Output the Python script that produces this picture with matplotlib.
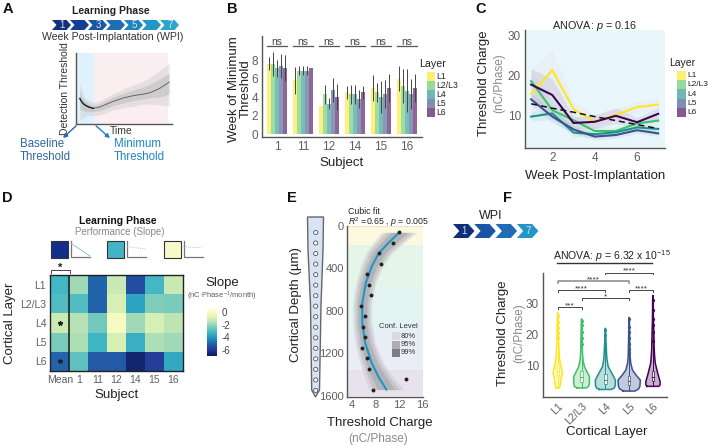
#!/usr/bin/env python3
import numpy as np
import matplotlib
matplotlib.use('Agg')
import matplotlib.pyplot as plt
from matplotlib.patches import Polygon, Rectangle, Circle

plt.rcParams['font.family'] = ['Liberation Sans', 'DejaVu Sans']
plt.rcParams['mathtext.fontset'] = 'custom'
plt.rcParams['mathtext.rm'] = 'Liberation Sans'
plt.rcParams['mathtext.it'] = 'Liberation Sans:italic'

W, H = 708, 446
GREY = '#5f5f5f'
AXC = '#555555'

layers = ['L1', 'L2/L3', 'L4', 'L5', 'L6']
colors = ['#fde725', '#5ec962', '#21918c', '#3b528b', '#440154']
chev_cols = ['#10307f', '#123f94', '#1a55a5', '#1f6db5', '#2183bf', '#2296c6', '#2aa5cc']

# A
a_time = [4, 6, 9, 13, 18, 25, 39, 50, 60, 70, 77, 87, 97]
a_thr = [36, 31, 27, 24, 22, 24, 32, 37, 40, 42, 44, 50, 59]
a_hi = [60, 45, 38, 33, 30, 33, 43, 50, 55, 60, 66, 75, 85]
a_lo = [3, 8, 10, 12, 12, 13, 20, 23, 25, 28, 28, 27, 25]
a_hi2 = [48, 38, 33, 29, 26, 29, 38, 44, 48, 52, 56, 63, 72]
a_lo2 = [20, 20, 18, 18, 17, 19, 26, 30, 33, 35, 37, 38, 42]

# B
subjects = ['1', '11', '12', '14', '15', '16']
bar_vals = [[7.6, 7.6, 7.1, 7.35, 7.1],
            [5.8, 6.85, 6.85, 6.85, 7.1],
            [3.0, 4.3, 3.3, 4.8, 4.0],
            [4.5, 4.3, 4.3, 3.8, 4.5],
            [5.0, 4.5, 4.0, 4.3, 5.0],
            [6.0, 5.2, 4.7, 4.3, 5.0]]
bar_errs = [[0.7, 1.3, 0.9, 1.3, 1.4],
            [1.5, 0.5, 0.5, 0.5, 0.0],
            [0.0, 1.0, 0.6, 1.3, 1.4],
            [0.7, 1.0, 1.0, 1.0, 0.7],
            [1.4, 1.0, 1.7, 1.5, 1.5],
            [1.4, 1.8, 2.3, 1.6, 1.5]]

# C
weeks = [1, 2, 3, 4, 5, 6, 7]
wk_vals = [[15.2, 21.2, 11.5, 8.3, 10.0, 12.0, 12.6],
           [18.5, 11.2, 8.7, 6.0, 6.0, 7.9, 8.6],
           [9.6, 10.4, 5.6, 5.2, 5.7, 6.9, 6.5],
           [13.9, 9.6, 6.4, 4.6, 5.0, 6.2, 5.4],
           [17.6, 15.0, 8.0, 8.3, 9.8, 8.2, 10.3]]
wk_err = [[6.0, 5.0, 2.0, 1.5, 1.5, 1.5, 1.5],
          [3.0, 2.0, 1.5, 1.0, 1.0, 1.0, 1.0],
          [1.2, 1.5, 1.0, 0.8, 0.8, 0.8, 0.8],
          [1.5, 1.5, 1.0, 0.8, 0.8, 0.8, 0.8],
          [4.0, 4.0, 1.5, 1.8, 2.0, 1.2, 1.5]]
wk_trend = [12.8, 11.7, 10.7, 9.6, 8.6, 7.6, 6.6]

# D
heat_cols = ['Mean', '1', '11', '12', '14', '15', '16']
heat_rows = ['L1', 'L2/L3', 'L4', 'L5', 'L6']
slopes = [[-3.2, -1.9, -5.0, -1.3, -5.5, -3.2, -1.3],
          [-3.0, -3.0, -5.0, -1.0, -3.7, -2.3, -2.4],
          [-1.3, -1.6, -2.5, 0.0, -1.9, -1.0, -1.5],
          [-2.4, -1.7, -3.3, -1.0, -3.4, -1.7, -1.9],
          [-5.0, -2.8, -5.2, -5.2, -6.6, -5.8, -3.6]]

# E
pt_charge = [12.0, 11.0, 8.5, 8.9, 6.5, 6.8, 7.2, 5.5, 6.1, 5.8, 6.2, 5.7, 6.5, 6.8, 13.1, 7.6]
pt_depth = [60, 156, 253, 354, 454, 554, 651, 751, 851, 951, 1049, 1145, 1246, 1346, 1443, 1543]
fit_depth = [60, 163, 257, 382, 538, 726, 914, 1101, 1289, 1414, 1540]
fit_charge = [12.0, 10.1, 8.5, 7.3, 6.3, 5.7, 5.7, 6.2, 7.3, 8.4, 9.8]
ci99 = [3.0, 2.6, 2.2, 1.9, 1.7, 1.6, 1.6, 1.7, 2.0, 2.4, 3.0]
ci95 = [2.3, 2.0, 1.7, 1.4, 1.3, 1.2, 1.2, 1.3, 1.5, 1.8, 2.3]
ci80 = [1.5, 1.3, 1.1, 0.9, 0.8, 0.8, 0.8, 0.8, 1.0, 1.2, 1.5]
band_edges = [0, 178, 570, 976, 1352, 1600]
band_cols = ['#fdf8e0', '#e6f5ea', '#e3f3f1', '#e9edf5', '#e8e2ec']
conf_labels = ['80%', '95%', '99%']
conf_cols = ['#dcdadf', '#aeadb3', '#7f7d84']

# F
vio_vals = [[3, 4, 5.5, 7.7, 10.3, 12, 14, 17, 20, 24, 27],
            [3, 3.5, 4.5, 6.6, 9.8, 12, 14, 17, 20, 25],
            [2.5, 3, 4, 5.5, 6.6, 9.8, 12, 14, 17, 22],
            [2, 2.7, 3.5, 5.5, 7, 8.7, 10.8, 13, 16, 20, 25.5],
            [3.5, 4, 5, 7.7, 10.8, 13, 16, 20, 25, 32.5]]
vio_wid = [[.07, .11, .13, .2, .13, .08, .06, .04, .03, .02, .01],
           [.2, .3, .33, .33, .12, .06, .04, .03, .02, .01],
           [.25, .38, .42, .42, .35, .12, .07, .05, .03, .01],
           [.25, .4, .45, .47, .3, .14, .07, .04, .03, .02, .01],
           [.25, .3, .3, .2, .1, .07, .05, .04, .02, .01]]
vio_med = [8.5, 6.5, 5.5, 5.2, 6.5]
vio_q1 = [7.0, 5.0, 4.2, 4.0, 5.2]
vio_q3 = [10.5, 8.5, 7.5, 6.8, 8.5]
vio_out = [[19, 20.5, 22, 24, 26],
           [17, 19, 21, 23, 24.5],
           [15, 16, 17, 20, 21.5],
           [14, 15.5, 17, 19, 21, 22.5, 25],
           [18, 21, 23, 25, 28, 31]]
sig_pairs = [(0, 1, 28.7, '***'), (1, 3, 31.6, '*'), (0, 2, 34.2, '****'),
             (3, 4, 34.2, '****'), (0, 3, 37.0, '****'), (2, 4, 39.8, '****')]


fig = plt.figure(figsize=(W / 100, H / 100), dpi=100)

def axpx(l, t, r, b):
  return fig.add_axes([l / W, 1 - b / H, (r - l) / W, (b - t) / H])

def clean(ax, size=8.5):
  for s in ['top', 'right']:
    ax.spines[s].set_visible(False)
  for s in ['left', 'bottom']:
    ax.spines[s].set_color(AXC)
    ax.spines[s].set_linewidth(1.0)
  ax.tick_params(length=0, labelsize=size, labelcolor=GREY, pad=3)

# overlay in pixel units for annotations and sketches
ov = fig.add_axes([0, 0, 1, 1], zorder=20)
ov.set_xlim(0, W)
ov.set_ylim(H, 0)
ov.axis('off')

def txt(x, y, s, size=9, color='#222222', ha='center', **kw):
  return ov.text(x, y, s, fontsize=size, color=color, ha=ha, va='center', **kw)

def chevrons(x0, y0, step, w, h, cols, labels):
  for i, c in enumerate(cols):
    x = x0 + i * step
    pts = [(x, y0), (x + w - h * 0.45, y0), (x + w, y0 + h / 2), (x + w - h * 0.45, y0 + h),
           (x, y0 + h), (x + h * 0.45, y0 + h / 2)]
    ov.add_patch(Polygon(pts, closed=True, fc=c, ec='none'))
    if labels[i]:
      txt(x + w / 2 + 0.5, y0 + h / 2, labels[i], 7, '#d5e6f2')

for x, y, s in [(8, 9, 'A'), (232, 9, 'B'), (481, 9, 'C'), (7, 198, 'D'), (292, 198, 'E'), (507, 198, 'F')]:
  txt(x, y, s, 10.5, '#111111', fontweight='bold')

# --- A
txt(111, 11, 'Learning Phase', 7.5, '#222222', fontweight='bold')
chevrons(52, 20, 18, 19, 10, chev_cols, ['1', '', '3', '', '5', '', '7'])
txt(113, 36.5, 'Week Post-Implantation (WPI)', 7.6, '#333333')
ax = axpx(76, 53, 172, 124)
clean(ax)
ax.set_xlim(0, 100)
ax.set_ylim(0, 100)
ax.set_xticks([])
ax.set_yticks([])
ax.axvspan(0, 19, color='#dff1fb', lw=0)
ax.axvspan(19, 96, color='#fbeef0', lw=0)
ax.fill_between(a_time, a_lo, a_hi, color='#c8c8c8', alpha=0.4, lw=0)
ax.fill_between(a_time, a_lo2, a_hi2, color='#a8a8a8', alpha=0.35, lw=0)
ax.plot(a_time, a_thr, color='#666666', lw=0.7)
ax.plot(a_time[:5], a_thr[:5], color='#222222', lw=1.0)
ax.set_xlabel('Time', fontsize=7.5, color='#333333', labelpad=1)
ax.xaxis.set_label_coords(0.47, -0.03, transform=ax.transAxes)
ax.xaxis.label.set_verticalalignment('top')
ax.set_ylabel('Detection Threshold', fontsize=7.5, color='#333333', labelpad=4)
ov.annotate('', xy=(61, 140), xytext=(78, 124), arrowprops=dict(arrowstyle='-|>', color='#2d6a9f', lw=1, mutation_scale=6))
ov.annotate('', xy=(112, 140), xytext=(94, 124), arrowprops=dict(arrowstyle='-|>', color='#1f7fc0', lw=1, mutation_scale=6))
txt(20, 144, 'Baseline', 8.3, '#2d6a9f', ha='left')
txt(20, 157, 'Threshold', 8.3, '#2d6a9f', ha='left')
txt(114, 144, 'Minimum', 8.3, '#1f86c6', ha='left')
txt(114, 157, 'Threshold', 8.3, '#1f86c6', ha='left')

# --- B
ax = axpx(262, 36, 422, 137)
clean(ax)
ax.set_xlim(-0.577, 5.58)
ax.set_ylim(-0.32, 10.6)
bw = 0.15
for g in range(len(subjects)):
  for k in range(5):
    xx = g + (k - 2) * bw
    ax.bar(xx, bar_vals[g][k], bw, color=colors[k], alpha=0.6, lw=0)
    if bar_errs[g][k] > 0:
      ax.errorbar(xx, bar_vals[g][k], yerr=bar_errs[g][k], color='#444444', lw=0.7)
  ax.plot([g - 0.38, g + 0.38], [9.5, 9.5], color=AXC, lw=0.9)
  ax.text(g, 9.45, 'ns', fontsize=7.5, color='#444444', ha='center', va='bottom')
ax.set_xticks(range(len(subjects)), subjects)
ax.set_yticks([0, 2, 4, 6, 8])
ax.set_xlabel('Subject', fontsize=9.5, color='#222222', labelpad=3)
txt(234, 89, 'Week of Minimum', 9.5, '#222222', rotation=90)
txt(246, 89, 'Threshold', 9.5, '#222222', rotation=90)

def layer_legend(x_title, x_sw, y0, step, w, size):
  txt(x_title, y0 - 8, 'Layer', size + 1.5, '#222222', ha='left')
  for i, l in enumerate(layers):
    ov.add_patch(Rectangle((x_sw, y0 + i * step), w, step, fc=colors[i], alpha=0.65, lw=0))
    txt(x_sw + w + 1.5, y0 + (i + 0.5) * step, l, size, '#222222', ha='left')

layer_legend(419, 427, 72, 9, 8, 6.2)

# --- C
ax = axpx(525, 30, 665, 148)
clean(ax)
ax.set_xlim(0.71, 7.32)
ax.set_ylim(1.75, 31.25)
ax.set_facecolor('#e9f6fc')
for k in range(5):
  v, e = np.array(wk_vals[k]), np.array(wk_err[k])
  ax.fill_between(weeks, v - e, v + e, color=colors[k] if k != 0 else '#e8a0a8', alpha=0.08, lw=0)
for k in [0, 1, 2, 3, 4]:
  ax.plot(weeks, wk_vals[k], color=colors[k] if k != 1 else '#3fbf6f', lw=1.5)
ax.plot(weeks, wk_trend, color='#111111', lw=1.1, ls=(0, (4, 2.5)))
ax.set_xticks([2, 4, 6])
ax.set_yticks([10, 20, 30])
ax.set_xlabel('Week Post-Implantation', fontsize=9.5, color='#222222', labelpad=4)
txt(595, 26, 'ANOVA: $\\mathit{p}$ = 0.16', 7.8, '#222222')
txt(484, 83, 'Threshold Charge', 9.5, '#222222', rotation=90)
txt(499, 83, '(nC/Phase)', 8.5, '#8a8a8a', rotation=90)
layer_legend(669, 677, 71, 9.2, 9, 6.0)

# --- D
ax = axpx(50.3, 275, 182.7, 370.7)
im = ax.imshow(slopes, cmap='YlGnBu_r', vmin=-7.0, vmax=0.5, aspect='auto')
ax.set_xticks(range(7), heat_cols)
ax.set_yticks(range(5), heat_rows)
ax.tick_params(length=0, labelsize=7.5, labelcolor=GREY, pad=3)
for s in ax.spines.values():
  s.set_linewidth(1.0)
  s.set_color('#222222')
ax.axvline(0.5, color='#222222', lw=1.2)
ax.plot([0, 0], [2, 4], ls='none', marker='*', color='#222222', ms=3.2)
ax.set_xlabel('Subject', fontsize=9.5, color='#222222', labelpad=3)
ax.set_ylabel('Cortical Layer', fontsize=9.5, color='#222222', labelpad=3)
ov.plot([50.5, 50.5, 69.5, 69.5], [273, 270, 270, 273], color='#444444', lw=0.7)
txt(60, 268, '*', 8, '#222222', fontweight='bold')
cax = axpx(207, 309, 217, 356)
cb = fig.colorbar(im, cax=cax)
cb.set_ticks([0, -2, -4, -6])
cb.ax.tick_params(length=0, labelsize=7, labelcolor='#444444', pad=3)
cb.ax.set_yticklabels(['0', '-2', '-4', '-6'])
cb.outline.set_visible(False)
txt(222, 283, 'Slope', 9.5, '#222222')
txt(222, 296, '(nC$\\cdot$Phase$^{-1}$/month)', 5.5, GREY)
txt(118, 221, 'Learning Phase', 7.5, '#111111', fontweight='bold')
txt(120, 232, 'Performance (Slope)', 7, '#8a8a8a')
for x0, c, ye in [(51, '#12308a', 256), (107, '#43b3c6', 249), (163.5, '#f6fbc9', 248)]:
  ov.add_patch(Rectangle((x0, 241), 17, 16.5, fc=c, ec='#333333', lw=0.8))
  ov.plot([x0 + 20, x0 + 20, x0 + 39], [241, 257, 257], color='#777777', lw=0.9)
  ov.plot([x0 + 20, x0 + 39], [242 + (ye - 242) * 0.1 + (4 if ye < 250 else 0), ye], color='#7bbcd0', lw=0.6, ls=':' if ye < 250 else '-')

# --- E
ax = axpx(347, 226, 423, 397)
clean(ax)
ax.set_xlim(3.1, 16.05)
ax.set_ylim(1610, 0)
for i in range(5):
  ax.axhspan(band_edges[i], band_edges[i + 1], color=band_cols[i], lw=0)
fit_c = np.array(fit_charge)
for ci, c in zip([ci99, ci95, ci80], ['#c9c8cc', '#b5b4b9', '#a0a0a5']):
  ax.fill_betweenx(fit_depth, fit_c - np.array(ci), fit_c + np.array(ci), color=c, alpha=0.5, lw=0)
ax.plot(fit_charge, fit_depth, color='#1f95c8', lw=1.5)
ax.plot(pt_charge, pt_depth, ls='none', marker='o', ms=1.8, color='#222222')
ax.axhline(0, color='#e0b0a0', lw=0.6, ls=':', clip_on=False)
ax.set_xticks([4, 8, 12, 16])
ax.set_yticks([0, 400, 800, 1200, 1600])
ax.tick_params(labelsize=8, pad=2)
txt(296, 305, 'Cortical Depth (µm)', 9.5, '#222222', rotation=90)
txt(380, 423, 'Threshold Charge', 9.5, '#222222')
txt(378, 439, '(nC/Phase)', 8.5, '#8a8a8a')
txt(348, 211, 'Cubic fit', 6.3, '#222222', ha='left')
txt(348, 222, '$\\mathit{R}^2$ =0.65 , $\\mathit{p}$ = 0.005', 6.3, '#222222', ha='left')
txt(398, 326, 'Conf. Level', 5.5, '#333333')
for i, l in enumerate(conf_labels):
  ov.add_patch(Rectangle((392, 332 + i * 8.5), 8, 8, fc=conf_cols[i], lw=0))
  txt(401, 336 + i * 8.5, l, 5.5, '#333333', ha='left')

# probe sketch
ov.add_patch(Polygon([(307.5, 217), (323.5, 217), (323, 250), (321, 305), (319.5, 390), (315.5, 397), (311.7, 390), (310.5, 305), (308, 250)],
                     closed=True, fc='#d8e4f4', ec='#666666', lw=1))
for i in range(16):
  ov.add_patch(Circle((315.7, 232.5 + i * 10.53), 2.1, fc='#f4f7fb', ec='#555555', lw=0.6))

# --- F
txt(491, 216, 'WPI', 9, '#222222')
chevrons(453, 224, 21.3, 21.5, 14, ['#10307f', '#1a55a5', '#1f6db5', '#2296c6'], ['1', '', '', '7'])
ax = axpx(543, 273, 667, 397)
clean(ax)
ax.set_xlim(-0.62, 4.59)
ax.set_ylim(0.1, 39.7)
for k in range(5):
  v, w = np.array(vio_vals[k]), np.array(vio_wid[k])
  col = colors[k] if k != 1 else '#3fbf6f'
  ax.fill_betweenx(v, k - w, k + w, facecolor=colors[k], alpha=0.3, lw=0)
  ax.plot(np.r_[k - w, (k + w)[::-1], k - w[0]], np.r_[v, v[::-1], v[0]], color=col, lw=1.1)
  ax.plot([k, k], [v[0], v[-1]], color=col, lw=0.7)
  ax.plot([k] * len(vio_out[k]), vio_out[k], ls='none', marker='o', ms=1.3, color=col)
  ax.add_patch(Rectangle((k - 0.05, vio_q1[k]), 0.1, vio_q3[k] - vio_q1[k], fc='white', ec=col, lw=0.5, zorder=3))
  ax.plot([k - 0.05, k + 0.05], [vio_med[k], vio_med[k]], color=col, lw=0.7, zorder=4)
for a, b, y, s in sig_pairs:
  lw, c = (1.1, '#888888') if (a, b) == (0, 3) else (0.7, '#444444')
  ax.plot([a, a, b, b], [y - 0.5, y, y, y - 0.5], color=c, lw=lw, clip_on=False)
  ax.text((a + b) / 2, y - 0.7, s, fontsize=6, color='#333333', ha='center', va='bottom', clip_on=False)
ax.set_xticks(range(5), ['L1', 'L2/L3', 'L4', 'L5', 'L6'])
ax.set_yticks([10, 20, 30])
ax.tick_params(axis='x', labelrotation=45, labelsize=7.5)
for t in ax.get_xticklabels():
  t.set_ha('right')
  t.set_rotation_mode('anchor')
ax.tick_params(axis='y', labelsize=8.5)
txt(607, 432, 'Cortical Layer', 9.5, '#222222')
txt(503, 333, 'Threshold Charge', 9.5, '#222222', rotation=90)
txt(519, 333, '(nC/Phase)', 8.5, '#8a8a8a', rotation=90)
txt(612, 256, 'ANOVA: $\\mathit{p}$ = 6.32 x 10$^{-15}$', 7.6, '#222222')
ov.plot([557, 652], [262.5, 262.5], color='#333333', lw=1)

fig.savefig('out.png', dpi=100)
